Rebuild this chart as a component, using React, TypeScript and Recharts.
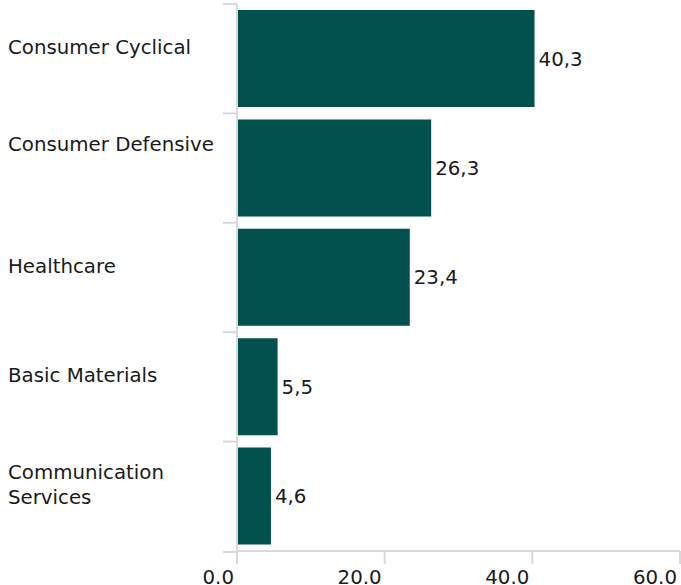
import { BarChart, Bar, XAxis, YAxis, LabelList } from "recharts";

const sectors = [
  "Consumer Cyclical",
  "Consumer Defensive",
  "Healthcare",
  "Basic Materials",
  "Communication Services",
];
// tick label lines as laid out in the source (Consumer Defensive reserves a 2nd empty line)
const sectorLines = [
  ["Consumer Cyclical"],
  ["Consumer Defensive", ""],
  ["Healthcare"],
  ["Basic Materials"],
  ["Communication", "Services"],
];
const weights = [40.3, 26.3, 23.4, 5.5, 4.6];
const xTicks = [0, 20, 40, 60];

const data = sectors.map((sector, i) => ({ sector, weight: weights[i] }));

const W = 681;
const H = 585;
const TOP = 4;
const XAXIS_H = 34;
const BAND = (H - TOP - XAXIS_H) / sectors.length;
const GRID = "#d9d9d9";
const INK = "#1a1a1a";
const FONT = "'DejaVu Sans', Verdana, sans-serif";
const FS = 19.8;

function SectorTick(props: any) {
  const { x, y, index } = props;
  const lines = sectorLines[index] ?? [props.payload.value];
  const lh = 25;
  const startY = y - 12 - ((lines.length - 1) * lh) / 2;
  return (
    <g>
      <line x1={x - 14} x2={x} y1={y - BAND / 2} y2={y - BAND / 2} stroke={GRID} strokeWidth={2} />
      {index === sectors.length - 1 && (
        <line x1={x - 14} x2={x} y1={y + BAND / 2 + 1} y2={y + BAND / 2 + 1} stroke={GRID} strokeWidth={2} />
      )}
      <text x={8} y={startY} dominantBaseline="central" fontSize={FS} fill={INK} fontFamily={FONT}>
        {lines.map((l: string, i: number) => (
          <tspan key={i} x={8} dy={i === 0 ? 0 : lh}>
            {l}
          </tspan>
        ))}
      </text>
    </g>
  );
}

function ValueTick(props: any) {
  const { x, y, payload } = props;
  return (
    <text x={x - 3} y={y} dy="0.71em" textAnchor="end" fontSize={FS} fill={INK} fontFamily={FONT}>
      {Number(payload.value).toFixed(1)}
    </text>
  );
}

export default function App() {
  return (
    <div style={{ position: "fixed", left: 0, top: 0, background: "#fff" }}>
      <BarChart
        width={W}
        height={H}
        data={data}
        layout="vertical"
        margin={{ top: TOP, right: 1, left: 0, bottom: 0 }}
        barCategoryGap="5.5%"
        style={{ fontFamily: FONT }}
      >
        <XAxis
          type="number"
          domain={[0, 60]}
          ticks={xTicks}
          height={XAXIS_H}
          allowDataOverflow
          axisLine={{ stroke: GRID, strokeWidth: 2 }}
          tickLine={{ stroke: GRID, strokeWidth: 2 }}
          tickSize={13}
          tickMargin={6}
          tick={<ValueTick />}
          interval={0}
        />
        <YAxis
          type="category"
          dataKey="sector"
          width={237}
          axisLine={{ stroke: GRID, strokeWidth: 2 }}
          tickLine={false}
          tickSize={0}
          tickMargin={0}
          tick={<SectorTick />}
          interval={0}
        />
        <Bar dataKey="weight" fill="#02514f" isAnimationActive={false}>
          <LabelList
            dataKey="weight"
            position="right"
            offset={4}
            fontSize={FS}
            fill={INK}
            fontFamily={FONT}
            formatter={(v: any) => String(v).replace(".", ",")}
          />
        </Bar>
      </BarChart>
    </div>
  );
}
